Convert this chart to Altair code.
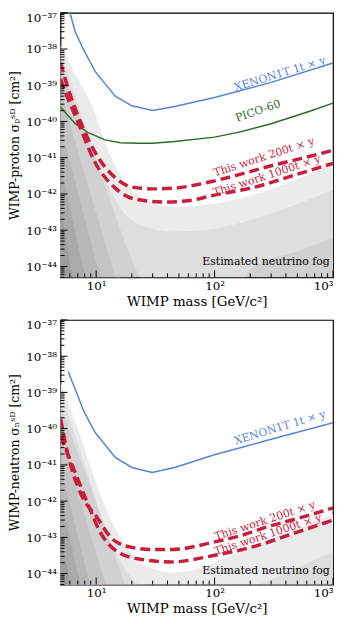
import altair as alt
import pandas as pd

FONT = "DejaVu Serif"
W, H = 275, 267
M_DOMAIN = [5, 1000]
S_DOMAIN = [5e-45, 1e-37]

BLUE = "#5585d2"
GREEN = "#2f6a2c"
RED = "#c91d3d"
FOG_COLORS = ["#ebebeb", "#dedede", "#d1d1d1", "#c4c4c4", "#b7b7b7", "#aaaaaa", "#9d9d9d"]

# ---------------- proton panel ----------------
p_xenon_m = [6.0, 6.65, 7.8, 9.8, 14.5, 20, 30, 46, 100, 300, 1000]
p_xenon_s = [1e-37, 3e-38, 9.8e-39, 2.4e-39, 5e-40, 2.7e-40, 2.0e-40, 2.6e-40, 4.6e-40, 1.2e-39, 4.1e-39]

p_pico_m = [5, 6.65, 8.55, 11.9, 16, 22.6, 30, 46, 100, 158, 300, 600, 1000]
p_pico_s = [2.5e-40, 8.7e-41, 4.9e-41, 3.1e-41, 2.6e-41, 2.5e-41, 2.5e-41, 2.8e-41, 3.7e-41, 5e-41, 8.7e-41, 1.8e-40, 3.2e-40]

p_w200_m = [5, 5.47, 7.6, 9.8, 14.5, 20, 31.5, 46, 100, 155, 300, 500, 1000]
p_w200_s = [4.2e-39, 1.5e-39, 7.8e-41, 1.4e-41, 2.8e-42, 1.55e-42, 1.38e-42, 1.45e-42, 2.3e-42, 3.3e-42, 6e-42, 9e-42, 1.6e-41]

p_w1000_m = [5, 5.17, 7.05, 9.8, 14.5, 21.3, 38, 60, 100, 211, 500, 1000]
p_w1000_s = [1.5e-39, 1.1e-39, 9.3e-41, 7.4e-42, 1.45e-42, 7.2e-43, 6e-43, 6.5e-43, 9.3e-43, 1.5e-42, 3.5e-42, 7e-42]

p_fog1_m = [5, 6.65, 9.25, 11.7, 14.7, 19.4, 28.6, 46.4, 100, 242, 527, 1000]
p_fog1_s = [1.3e-38, 2.0e-39, 2.7e-40, 3.0e-41, 5.5e-42, 1.45e-42, 6.0e-43, 4.4e-43, 5.4e-43, 1.07e-42, 2.75e-42, 7.4e-42]
p_fog2_m = [5, 7.05, 9.81, 13.1, 17.6, 25.9, 43, 100, 242, 527, 1000]
p_fog2_s = [8.5e-39, 2.7e-40, 1.2e-41, 1.3e-42, 2.7e-43, 1.26e-43, 9.1e-44, 1.1e-43, 2.3e-43, 5.6e-43, 1.3e-42]
p_fog3_m = [5, 10.8, 23.5, 34.7, 75.5, 135, 215, 527, 1000]
p_fog3_s = [3.3e-39, 4.0e-42, 5.0e-45, 9.3e-46, 9.3e-46, 1.7e-45, 1.0e-44, 2.75e-44, 6.3e-44]
p_fog4_m = [5, 14.5, 21.3]
p_fog4_s = [6.9e-40, 5e-45, 7.4e-47]
p_fog5_m = [5, 10.8, 15.9]
p_fog5_s = [7.8e-41, 5e-45, 4e-47]
p_fog6_m = [5, 8.07, 10.8]
p_fog6_s = [6.2e-42, 5e-45, 7.4e-47]
p_fog7_m = [5, 6.27, 8.07]
p_fog7_s = [5e-43, 5e-45, 4e-47]

p_label_text = ["XENON1T 1t × y", "PICO-60", "This work 200t × y", "This work 1000t × y"]
p_label_m = [357, 233, 262, 277]
p_label_s = [2.0e-39, 1.9e-40, 1.02e-41, 3.1e-42]
p_label_angle = [343, 341, 342, 342]

# ---------------- neutron panel ----------------
n_xenon_m = [5.8, 6.9, 7.8, 9.8, 14.5, 20, 29.7, 46, 100, 300, 1000]
n_xenon_s = [3.8e-39, 9e-40, 3.2e-40, 7.8e-41, 1.6e-41, 8.5e-42, 6.2e-42, 8.5e-42, 1.9e-41, 5.1e-41, 1.45e-40]

n_w200_m = [5, 5.8, 7.3, 10.2, 13.9, 20.5, 30, 43, 100, 155, 300, 500, 1000]
n_w200_s = [1.9e-40, 1.8e-41, 1.8e-42, 3.5e-43, 8.6e-44, 5.2e-44, 4.6e-44, 4.6e-44, 7.5e-44, 1.05e-43, 2.1e-43, 3.3e-43, 6.5e-43]

n_w1000_m = [5, 6.3, 8.4, 10.8, 15, 23.5, 43, 100, 211, 500, 1000]
n_w1000_s = [6.3e-41, 9.5e-42, 9.3e-43, 1.4e-43, 4.1e-44, 2.5e-44, 2.1e-44, 3.2e-44, 5.5e-44, 1.4e-43, 3e-43]

n_fog1_m = [5, 7.33, 9.81, 13.6, 17.6, 22.6, 31.5, 46.4, 100, 200, 510, 1000]
n_fog1_s = [2.0e-39, 6.3e-41, 3.7e-42, 2.7e-43, 6.3e-44, 2.3e-44, 1.3e-44, 1.07e-44, 2.0e-44, 5.5e-44, 1.8e-43, 4.2e-43]
n_fog2_m = [5, 8.07, 13.1, 17.6, 25.9, 46.4, 100, 210, 527, 1000]
n_fog2_s = [1.07e-39, 9.5e-42, 8.5e-44, 1.3e-44, 3.7e-45, 2.0e-45, 2.0e-45, 4.2e-45, 1.6e-44, 4.1e-44]
n_fog3_m = [5, 17.6, 25.9]
n_fog3_s = [4.2e-40, 4.8e-45, 1.2e-46]
n_fog4_m = [5, 12.1, 17.6]
n_fog4_s = [6.3e-41, 4.8e-45, 8.5e-47]
n_fog5_m = [5, 8.9, 11.9]
n_fog5_s = [9.5e-42, 4.8e-45, 1.2e-46]
n_fog6_m = [5, 7.33, 9.81]
n_fog6_s = [1.45e-42, 4.8e-45, 6e-47]
n_fog7_m = [5, 6.04, 8.07]
n_fog7_s = [1.2e-43, 4.8e-45, 3.3e-47]

n_label_text = ["XENON1T 1t × y", "This work 200t × y", "This work 1000t × y"]
n_label_m = [357, 267, 283]
n_label_s = [1.05e-40, 2.8e-43, 1.17e-43]
n_label_angle = [343, 342, 342]

note_text = "Estimated neutrino fog"
note_m = [940, 940]
note_s = [1.3e-44, 1.15e-44]

# ---------------- ticks ----------------
y_major_exp = [-37, -38, -39, -40, -41, -42, -43, -44]
x_major_exp = [1, 2, 3]
minor_mult = [2, 3, 4, 5, 6, 7, 8, 9]

SUP = str.maketrans("-0123456789", "⁻⁰¹²³⁴⁵⁶⁷⁸⁹")


def label_expr(exps):
    parts = [f"round(log(datum.value)/LN10) == {e} ? '10{str(e).translate(SUP)}'" for e in exps]
    return " : ".join(parts) + " : ''"


y_major = [10.0 ** e for e in y_major_exp]
y_minor = [k * 10.0 ** e for e in range(-45, -37) for k in minor_mult
           if S_DOMAIN[0] <= k * 10.0 ** e <= S_DOMAIN[1]]
x_major = [10.0 ** e for e in x_major_exp]
x_minor = [k * 10.0 ** e for e in range(0, 3) for k in minor_mult
           if M_DOMAIN[0] < k * 10.0 ** e < M_DOMAIN[1]]

X_TITLE = "WIMP mass [GeV/c²]"
ANNOT = 11


def xenc():
    return alt.X("m:Q", scale=alt.Scale(type="log", domain=M_DOMAIN),
                 axis=alt.Axis(values=x_major, labelExpr=label_expr(x_major_exp),
                               title=X_TITLE, labelPadding=3, titlePadding=3))


def yenc(title):
    return alt.Y("s:Q", scale=alt.Scale(type="log", domain=S_DOMAIN),
                 axis=alt.Axis(values=y_major, labelExpr=label_expr(y_major_exp),
                               title=title, labelPadding=4, titlePadding=4, labelFlush=True,
                               titleFontSize=12.5))


def panel(ytitle, fogs, lines, labels, note_sig):
    layers = []
    for (m, s), col in zip(fogs, FOG_COLORS):
        df = pd.DataFrame({"m": m, "s": s})
        layers.append(alt.Chart(df).mark_area(color=col, clip=True, interpolate="monotone")
                      .encode(x=xenc(), y=yenc(ytitle), y2=alt.datum(S_DOMAIN[0])))
    for m, s, col, dashed in lines:
        df = pd.DataFrame({"m": m, "s": s})
        if dashed:
            mk = alt.Chart(df).mark_line(color=col, strokeWidth=3.5, strokeDash=[10, 5],
                                         clip=True, interpolate="monotone")
        else:
            mk = alt.Chart(df).mark_line(color=col, strokeWidth=1.5, clip=True)
        layers.append(mk.encode(x=xenc(), y=yenc(ytitle)))
    for t, m, s, a, col in labels:
        df = pd.DataFrame({"m": [m], "s": [s], "t": [t]})
        layers.append(alt.Chart(df).mark_text(font=FONT, fontSize=ANNOT, angle=a, color=col,
                                              align="center", baseline="middle")
                      .encode(x=xenc(), y=yenc(ytitle), text="t:N"))
    df = pd.DataFrame({"m": [note_m[0]], "s": [note_sig], "t": [note_text]})
    layers.append(alt.Chart(df).mark_text(font=FONT, fontSize=ANNOT, color="black",
                                          align="right", baseline="middle")
                  .encode(x=xenc(), y=yenc(ytitle), text="t:N"))
    # inward ticks
    for vals, ln in ((y_major, 7), (y_minor, 4)):
        df = pd.DataFrame({"s": vals})
        layers.append(alt.Chart(df).mark_rule(color="black", strokeWidth=1)
                      .encode(y=yenc(ytitle), x=alt.value(0), x2=alt.value(ln)))
    for vals, ln in ((x_major, 7), (x_minor, 4)):
        df = pd.DataFrame({"m": vals})
        layers.append(alt.Chart(df).mark_rule(color="black", strokeWidth=1)
                      .encode(x=xenc(), y=alt.value(H), y2=alt.value(H - ln)))
    return alt.layer(*layers).properties(width=W, height=H)


top = panel(
    "WIMP-proton σₚˢᴰ [cm²]",
    [(p_fog1_m, p_fog1_s), (p_fog2_m, p_fog2_s), (p_fog3_m, p_fog3_s), (p_fog4_m, p_fog4_s),
     (p_fog5_m, p_fog5_s), (p_fog6_m, p_fog6_s), (p_fog7_m, p_fog7_s)],
    [(p_xenon_m, p_xenon_s, BLUE, False), (p_pico_m, p_pico_s, GREEN, False),
     (p_w200_m, p_w200_s, RED, True), (p_w1000_m, p_w1000_s, RED, True)],
    list(zip(p_label_text, p_label_m, p_label_s, p_label_angle, [BLUE, GREEN, RED, RED])),
    note_s[0],
)

bottom = panel(
    "WIMP-neutron σₙˢᴰ [cm²]",
    [(n_fog1_m, n_fog1_s), (n_fog2_m, n_fog2_s), (n_fog3_m, n_fog3_s), (n_fog4_m, n_fog4_s),
     (n_fog5_m, n_fog5_s), (n_fog6_m, n_fog6_s), (n_fog7_m, n_fog7_s)],
    [(n_xenon_m, n_xenon_s, BLUE, False),
     (n_w200_m, n_w200_s, RED, True), (n_w1000_m, n_w1000_s, RED, True)],
    list(zip(n_label_text, n_label_m, n_label_s, n_label_angle, [BLUE, RED, RED])),
    note_s[1],
)

chart = (
    alt.vconcat(top, bottom, spacing=9)
    .properties(padding={"left": 0, "top": 0, "right": 0, "bottom": 0})
    .configure_view(stroke="black", strokeWidth=1.2)
    .configure_axis(labelFont=FONT, labelFontSize=12, labelColor="black",
                    titleFont=FONT, titleFontSize=13.5, titleFontWeight="normal",
                    titleColor="black", domain=False, grid=False, ticks=False, tickSize=0)
)

chart.save("out.html", embed_options={"renderer": "svg", "actions": False})
